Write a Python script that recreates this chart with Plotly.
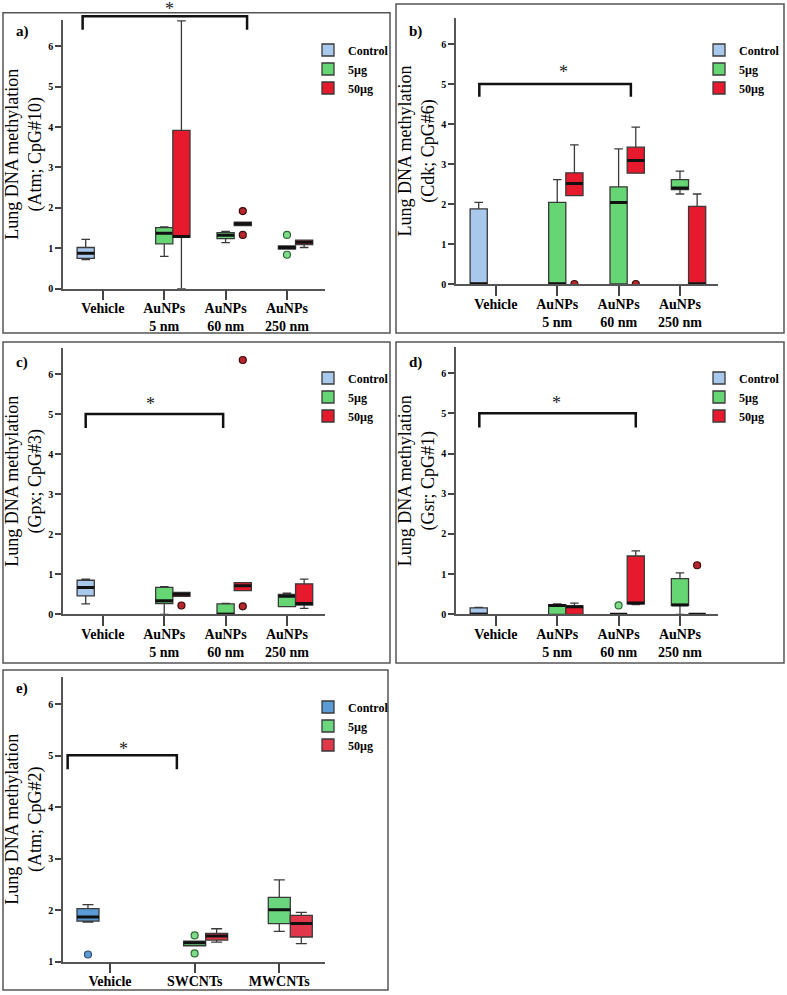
import plotly.graph_objects as go

W, H = 787, 995

GROUPS = ["Control", "5µg", "50µg"]
AUNP_LABELS = ["Vehicle", "AuNPs<br>5 nm", "AuNPs<br>60 nm", "AuNPs<br>250 nm"]
CNT_LABELS = ["Vehicle", "SWCNTs", "MWCNTs"]
Y_TITLES = ["(Atm; CpG#10)", "(Cdk; CpG#6)", "(Gpx; CpG#3)", "(Gsr; CpG#1)", "(Atm; CpG#2)"]
PANEL_TAGS = ["a)", "b)", "c)", "d)", "e)"]

# box membership (category index, dose group index)
AUNP_CAT = [0, 1, 1, 2, 2, 3, 3]
AUNP_GRP = [0, 1, 2, 1, 2, 1, 2]
CNT_CAT = [0, 1, 1, 2, 2]
CNT_GRP = [0, 1, 2, 1, 2]

# a) Atm CpG#10
A_LO = [0.72, 0.80, 0.00, 1.14, 1.56, 0.98, 1.02]
A_Q1 = [0.75, 1.11, 1.28, 1.24, 1.56, 0.98, 1.09]
A_MED = [0.88, 1.37, 1.29, 1.32, 1.61, 1.02, 1.15]
A_Q3 = [1.02, 1.51, 3.92, 1.39, 1.65, 1.06, 1.20]
A_HI = [1.22, 1.53, 6.63, 1.42, 1.65, 1.06, 1.20]
A_OUT_CAT = [2, 2, 3, 3]
A_OUT_GRP = [2, 2, 1, 1]
A_OUT_Y = [1.92, 1.33, 1.33, 0.84]

# b) Cdk CpG#6
B_LO = [0.00, 0.00, 2.21, 0.00, 2.77, 2.25, 0.00]
B_Q1 = [0.00, 0.00, 2.21, 0.00, 2.77, 2.36, 0.00]
B_MED = [0.00, 0.00, 2.51, 2.04, 3.09, 2.40, 0.00]
B_Q3 = [1.88, 2.04, 2.78, 2.43, 3.42, 2.61, 1.94]
B_HI = [2.04, 2.61, 3.48, 3.38, 3.92, 2.82, 2.25]
B_OUT_CAT = [1, 2]
B_OUT_GRP = [2, 2]
B_OUT_Y = [0.0, 0.0]

# c) Gpx CpG#3
C_LO = [0.26, 0.00, 0.45, 0.00, 0.59, 0.19, 0.15]
C_Q1 = [0.46, 0.27, 0.45, 0.00, 0.59, 0.19, 0.23]
C_MED = [0.67, 0.34, 0.50, 0.00, 0.71, 0.45, 0.27]
C_Q3 = [0.85, 0.67, 0.55, 0.26, 0.79, 0.50, 0.76]
C_HI = [0.88, 0.69, 0.55, 0.27, 0.79, 0.53, 0.88]
C_OUT_CAT = [1, 2, 2]
C_OUT_GRP = [2, 2, 2]
C_OUT_Y = [0.22, 6.35, 0.20]

# d) Gsr CpG#1
D_LO = [0.00, 0.00, 0.00, 0.00, 0.24, 0.00, 0.00]
D_Q1 = [0.00, 0.00, 0.00, 0.00, 0.26, 0.22, 0.00]
D_MED = [0.00, 0.22, 0.19, 0.00, 0.28, 0.23, 0.00]
D_Q3 = [0.16, 0.24, 0.21, 0.00, 1.45, 0.89, 0.00]
D_HI = [0.17, 0.26, 0.28, 0.00, 1.58, 1.03, 0.00]
D_OUT_CAT = [2, 3]
D_OUT_GRP = [1, 2]
D_OUT_Y = [0.22, 1.22]

# e) Atm CpG#2
E_LO = [1.77, 1.31, 1.38, 1.59, 1.35]
E_Q1 = [1.79, 1.31, 1.42, 1.74, 1.48]
E_MED = [1.87, 1.37, 1.50, 2.01, 1.74]
E_Q3 = [2.03, 1.40, 1.55, 2.25, 1.90]
E_HI = [2.11, 1.40, 1.64, 2.59, 1.96]
E_OUT_CAT = [0, 1, 1]
E_OUT_GRP = [0, 1, 1]
E_OUT_Y = [1.14, 1.51, 1.16]

# ---------------- styling / layout ----------------
FILL_AD = ["#a8c9ec", "#66d674", "#e6192d"]
FILL_E = ["#5b9bd5", "#6ad67e", "#e2364b"]
OUT_FILL = ["#5b9bd5", "#7fdc8a", "#b8262d"]
OUT_EDGE = ["#2f4f70", "#2a6a30", "#3a0a0a"]
EDGE = "#3a3a3a"
SERIF = "Liberation Serif"

panels = [
    dict(cat=AUNP_CAT, grp=AUNP_GRP, lo=A_LO, q1=A_Q1, med=A_MED, q3=A_Q3, hi=A_HI,
         oc=A_OUT_CAT, og=A_OUT_GRP, oy=A_OUT_Y, labels=AUNP_LABELS, fills=FILL_AD,
         dx=(63, 325), dy=(20, 288.7), xr=(-0.65, 3.62), yr=(0, 6.65), off=0.28, bw=0.28,
         br=(-0.33, 2.35, 6.74, 6.41), star=(1.09, 6.93), border=(3, 12.7, 390, 333),
         tag=(22, 32), leg=(328, 69.5)),
    dict(cat=AUNP_CAT, grp=AUNP_GRP, lo=B_LO, q1=B_Q1, med=B_MED, q3=B_Q3, hi=B_HI,
         oc=B_OUT_CAT, og=B_OUT_GRP, oy=B_OUT_Y, labels=AUNP_LABELS, fills=FILL_AD,
         dx=(456, 718), dy=(18, 284), xr=(-0.65, 3.62), yr=(0, 6.65), off=0.28, bw=0.28,
         br=(-0.27, 2.2, 5.0, 4.68), star=(1.10, 5.3), border=(396, 4, 784, 333),
         tag=(415, 32), leg=(719, 69.5)),
    dict(cat=AUNP_CAT, grp=AUNP_GRP, lo=C_LO, q1=C_Q1, med=C_MED, q3=C_Q3, hi=C_HI,
         oc=C_OUT_CAT, og=C_OUT_GRP, oy=C_OUT_Y, labels=AUNP_LABELS, fills=FILL_AD,
         dx=(63, 325), dy=(348, 614.3), xr=(-0.65, 3.62), yr=(0, 6.65), off=0.28, bw=0.28,
         br=(-0.28, 1.96, 5.0, 4.65), star=(0.77, 5.26), border=(3, 342, 390, 663),
         tag=(22, 362), leg=(328, 397.5)),
    dict(cat=AUNP_CAT, grp=AUNP_GRP, lo=D_LO, q1=D_Q1, med=D_MED, q3=D_Q3, hi=D_HI,
         oc=D_OUT_CAT, og=D_OUT_GRP, oy=D_OUT_Y, labels=AUNP_LABELS, fills=FILL_AD,
         dx=(456, 718), dy=(347, 614.3), xr=(-0.65, 3.62), yr=(0, 6.65), off=0.28, bw=0.28,
         br=(-0.27, 2.28, 5.0, 4.65), star=(0.98, 5.26), border=(396, 342, 784, 663),
         tag=(415, 362), leg=(719, 397.5)),
    dict(cat=CNT_CAT, grp=CNT_GRP, lo=E_LO, q1=E_Q1, med=E_MED, q3=E_Q3, hi=E_HI,
         oc=E_OUT_CAT, og=E_OUT_GRP, oy=E_OUT_Y, labels=CNT_LABELS, fills=FILL_E,
         dx=(63, 325), dy=(677, 961.7), xr=(-0.555, 2.54), yr=(1, 6.53), off=0.26, bw=0.26,
         br=(-0.50, 0.79, 5.01, 4.74), star=(0.165, 5.14), border=(3, 670, 388, 990),
         tag=(22, 688), leg=(328, 726.5)),
]

fig = go.Figure()
shapes = []
annotations = []
layout = dict(
    width=W, height=H, margin=dict(l=0, r=0, t=0, b=0, autoexpand=False),
    paper_bgcolor="white", plot_bgcolor="white", boxmode="overlay",
    font=dict(family=SERIF, color="black"),
)

for i, p in enumerate(panels):
    n = i + 1
    sfx = "" if n == 1 else str(n)
    xa, ya, leg = "x" + sfx, "y" + sfx, "legend" + sfx
    y0, y1 = p["yr"]

    for g in range(3):
        ks = [k for k in range(len(p["grp"])) if p["grp"][k] == g]
        if not ks:
            continue
        xs = [p["cat"][k] + (g - 1) * p["off"] for k in ks]
        fig.add_trace(go.Box(
            x=xs, orientation="v",
            lowerfence=[p["lo"][k] for k in ks], q1=[p["q1"][k] for k in ks],
            median=[p["med"][k] for k in ks], q3=[p["q3"][k] for k in ks],
            upperfence=[p["hi"][k] for k in ks],
            width=p["bw"], whiskerwidth=0.5, boxpoints=False,
            fillcolor=p["fills"][g], line=dict(color=EDGE, width=1.3),
            name=GROUPS[g], legend=leg, showlegend=True, hoverinfo="skip",
            xaxis=xa, yaxis=ya,
        ))
        # thick median bars
        meds = [p["med"][k] for k in ks]
        fig.add_trace(go.Box(
            x=xs, orientation="v", lowerfence=meds, q1=meds, median=meds, q3=meds,
            upperfence=meds, width=p["bw"], whiskerwidth=0, boxpoints=False,
            fillcolor="rgba(0,0,0,0)", line=dict(color="#111111", width=3),
            showlegend=False, hoverinfo="skip", xaxis=xa, yaxis=ya, legend=leg,
        ))
        # outliers
        oks = [k for k in range(len(p["og"])) if p["og"][k] == g]
        if oks:
            fig.add_trace(go.Scatter(
                x=[p["oc"][k] + (g - 1) * p["off"] for k in oks],
                y=[p["oy"][k] for k in oks], mode="markers",
                marker=dict(size=7, color=OUT_FILL[g], line=dict(color=OUT_EDGE[g], width=1.2)),
                showlegend=False, hoverinfo="skip", xaxis=xa, yaxis=ya,
            ))

    layout["xaxis" + sfx] = dict(
        domain=[p["dx"][0] / W, p["dx"][1] / W], anchor=ya, range=list(p["xr"]),
        tickvals=list(range(len(p["labels"]))), ticktext=p["labels"],
        ticks="outside", ticklen=10, tickwidth=1.5, tickcolor="#444",
        ticklabelstandoff=-4,
        showline=True, linecolor="#555", linewidth=1.5, showgrid=False, zeroline=False,
        tickfont=dict(family=SERIF, size=14, color="black", weight="bold"),
        automargin=False, fixedrange=True,
    )
    layout["yaxis" + sfx] = dict(
        domain=[1 - p["dy"][1] / H, 1 - p["dy"][0] / H], anchor=xa, range=[y0, y1],
        tickvals=list(range(int(y0), 7)), ticks="outside", ticklen=6, tickwidth=1.5,
        tickcolor="#444", showline=True, linecolor="#555", linewidth=1.5,
        showgrid=False, zeroline=False,
        tickfont=dict(family=SERIF, size=10, color="black", weight="bold"),
        title=dict(text="Lung DNA methylation<br>" + Y_TITLES[i],
                   font=dict(family=SERIF, size=18, color="black"), standoff=2),
        automargin=False, fixedrange=True,
    )
    layout[leg] = dict(
        x=(p["leg"][0] - 20) / W, y=1 - (p["leg"][1] - 34) / H,
        xanchor="left", yanchor="top", bgcolor="rgba(0,0,0,0)", borderwidth=0,
        font=dict(family=SERIF, size=12, color="black", weight="bold"),
        tracegroupgap=0, itemwidth=30,
    )

    # panel border
    bx0, by0, bx1, by1 = p["border"]
    shapes.append(dict(type="rect", xref="paper", yref="paper",
                       x0=bx0 / W, x1=bx1 / W, y0=1 - by1 / H, y1=1 - by0 / H,
                       line=dict(color="#555", width=1.5), fillcolor="rgba(0,0,0,0)"))
    # significance bracket (y in axis-domain fraction so it may leave the plot area)
    bl, brx, lev, drop = p["br"]
    fl = (lev - y0) / (y1 - y0)
    fd = (drop - y0) / (y1 - y0)
    shapes.append(dict(type="path", xref=xa, yref=ya + " domain",
                       path=f"M{bl},{fd} L{bl},{fl} L{brx},{fl} L{brx},{fd}",
                       line=dict(color="#111", width=2.5)))
    annotations.append(dict(x=p["star"][0], y=(p["star"][1] - y0) / (y1 - y0),
                            xref=xa, yref=ya + " domain", text="*", showarrow=False,
                            xanchor="center", yanchor="middle",
                            font=dict(family=SERIF, size=18, color="#222")))
    annotations.append(dict(x=p["tag"][0] / W, y=1 - p["tag"][1] / H, xref="paper",
                            yref="paper", text="<b>" + PANEL_TAGS[i] + "</b>",
                            showarrow=False, xanchor="center", yanchor="middle",
                            font=dict(family=SERIF, size=15, color="black")))

layout["shapes"] = shapes
layout["annotations"] = annotations
fig.update_layout(**layout)
fig.write_html(
    "out.html",
    config={"displayModeBar": False},
    post_script="document.body.style.margin='0';document.body.style.padding='0';",
)
